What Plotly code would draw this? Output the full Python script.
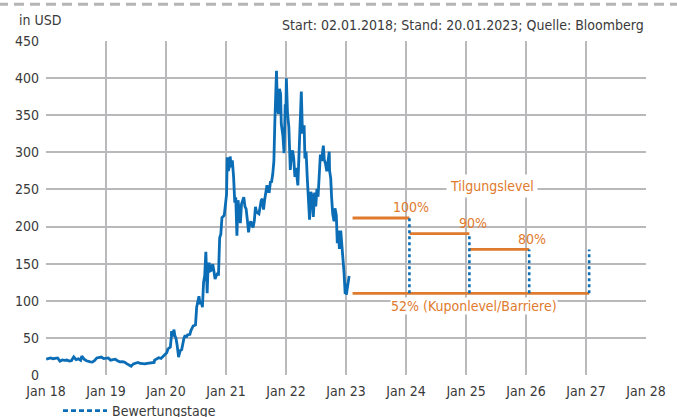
import plotly.graph_objects as go

# ---- price series (USD) ----
dates = [
"2018-01-02","2018-01-16","2018-01-30","2018-02-13","2018-02-27","2018-03-13","2018-03-27","2018-04-10","2018-04-24",
"2018-05-08","2018-05-22","2018-06-05","2018-06-19","2018-07-03","2018-07-17","2018-07-31","2018-08-07","2018-08-21",
"2018-09-04","2018-09-18","2018-09-28","2018-10-09","2018-10-23","2018-11-06","2018-11-20","2018-12-04","2018-12-18","2018-12-31",
"2019-01-15","2019-01-29","2019-02-12","2019-02-26","2019-03-12","2019-03-26","2019-04-09","2019-04-23","2019-05-07",
"2019-05-21","2019-06-03","2019-06-17","2019-07-01","2019-07-15","2019-07-29","2019-08-12","2019-08-26","2019-09-09",
"2019-09-23","2019-10-07","2019-10-21","2019-10-24","2019-11-04","2019-11-18","2019-12-02","2019-12-16","2019-12-31",
"2020-01-06","2020-01-13","2020-01-21","2020-01-28","2020-02-03","2020-02-04","2020-02-10","2020-02-19","2020-02-24",
"2020-03-02","2020-03-09","2020-03-16","2020-03-18","2020-03-23","2020-03-30","2020-04-06","2020-04-13","2020-04-20",
"2020-04-27","2020-05-04","2020-05-11","2020-05-18","2020-05-26","2020-06-01","2020-06-08","2020-06-15","2020-06-22",
"2020-06-29","2020-07-06","2020-07-13","2020-07-20","2020-07-27","2020-08-03","2020-08-10","2020-08-17","2020-08-24",
"2020-08-31","2020-09-08","2020-09-14","2020-09-21","2020-09-28","2020-10-05","2020-10-12","2020-10-19","2020-10-26",
"2020-11-02","2020-11-09","2020-11-16","2020-11-18","2020-11-23","2020-11-30","2020-12-07","2020-12-14","2020-12-21","2020-12-31",
"2021-01-04","2021-01-08","2021-01-15","2021-01-22","2021-01-26","2021-02-01","2021-02-08","2021-02-16","2021-02-23",
"2021-03-01","2021-03-05","2021-03-08","2021-03-15","2021-03-22","2021-03-29","2021-04-05","2021-04-12","2021-04-19",
"2021-04-26","2021-05-03","2021-05-10","2021-05-18","2021-05-24","2021-06-01","2021-06-08","2021-06-15","2021-06-22",
"2021-06-29","2021-07-06","2021-07-13","2021-07-20","2021-07-27","2021-08-03","2021-08-10","2021-08-17","2021-08-24",
"2021-08-31","2021-09-07","2021-09-14","2021-09-21","2021-09-28","2021-10-05","2021-10-12","2021-10-19","2021-10-25",
"2021-10-29","2021-11-01","2021-11-04","2021-11-10","2021-11-16","2021-11-22","2021-11-29","2021-12-03","2021-12-13",
"2021-12-20","2021-12-27","2021-12-31",
"2022-01-03","2022-01-10","2022-01-18","2022-01-27","2022-02-03","2022-02-10","2022-02-17","2022-02-24","2022-03-03",
"2022-03-14","2022-03-21","2022-03-29","2022-04-04","2022-04-11","2022-04-21","2022-04-26","2022-05-03","2022-05-10",
"2022-05-18","2022-05-24","2022-06-01","2022-06-08","2022-06-16","2022-06-24","2022-07-01","2022-07-08","2022-07-15",
"2022-07-21","2022-07-29","2022-08-05","2022-08-12","2022-08-16","2022-08-22","2022-08-29","2022-09-06","2022-09-13",
"2022-09-21","2022-09-23","2022-09-30","2022-10-05","2022-10-12","2022-10-20","2022-10-26","2022-11-03","2022-11-09",
"2022-11-15","2022-11-22","2022-11-30","2022-12-06","2022-12-13","2022-12-20","2022-12-27","2022-12-30",
"2023-01-03","2023-01-06","2023-01-11","2023-01-17","2023-01-20",
]
prices = [
21.4,22.6,23.1,21.9,22.8,23.0,18.6,20.3,19.7,
20.2,18.9,19.4,24.5,20.8,21.8,19.9,25.3,21.3,
19.2,18.0,17.6,17.4,19.4,23.0,23.1,24.2,22.1,22.2,
23.0,19.9,20.8,21.3,19.2,17.8,18.1,17.5,15.3,
13.1,11.9,15.0,15.8,16.9,15.6,15.0,14.9,15.7,
16.0,15.9,17.0,20.0,21.2,23.3,22.3,25.4,27.9,
30.1,35.0,36.5,37.7,52.0,59.1,51.8,61.2,53.3,
49.6,40.5,29.7,24.1,29.0,33.5,34.3,43.4,49.9,
53.3,50.8,54.0,54.3,54.7,59.9,63.8,66.1,66.6,
67.5,91.4,99.8,106.2,95.4,99.8,91.3,124.6,134.0,
166.1,110.1,149.8,149.8,140.4,141.4,149.4,140.0,129.3,
133.5,136.2,135.8,163.2,185.0,189.6,212.0,213.4,215.3,235.2,
243.3,293.3,275.0,282.2,294.4,279.9,289.3,266.3,232.0,
239.5,199.3,187.7,235.5,223.3,204.7,230.5,234.2,239.7,
226.9,223.9,210.0,192.1,203.4,207.0,201.1,199.0,207.8,
226.6,219.3,217.6,217.1,225.9,235.4,237.3,223.0,236.1,
245.2,255.6,247.3,247.0,259.9,260.5,270.4,288.0,341.6,
371.3,402.9,409.97,357.0,352.0,385.6,379.0,338.3,322.1,
299.0,364.6,352.3,
399.9,352.7,334.4,276.4,297.0,302.5,291.4,266.9,279.2,
255.5,307.3,364.6,381.8,325.3,336.3,291.7,301.0,266.7,
236.5,209.4,246.8,241.9,213.1,245.7,227.3,250.8,240.1,
272.2,297.1,288.2,300.0,308.97,289.9,284.8,274.4,292.1,
300.8,275.3,265.3,240.8,217.2,207.3,224.6,215.3,177.6,
194.4,169.9,194.7,179.8,160.95,137.8,109.1,123.2,
108.1,113.1,123.2,131.5,133.4,
]

# ---- product levels ----
level_start = "2023-02-10"
obs_dates = ["2024-01-22", "2025-01-21", "2026-01-20", "2027-01-20"]
redemption_levels = [211.5, 190.4, 169.2, 169.2]
redemption_labels = ["100%", "90%", "80%"]
barrier_level = 110.0
barrier_label = "52% (Kuponlevel/Barriere)"

BLUE = "#0a6db5"
ORANGE = "#e07a2c"
GRID = "#b9b9bb"
TXT = "#3a3a3a"
FONT = "DejaVu Sans Condensed, Liberation Sans Narrow, sans-serif"
FS = 14

fig = go.Figure()

fig.add_trace(go.Scatter(x=dates, y=prices, mode="lines",
                         line=dict(color=BLUE, width=2.8), showlegend=False))

# redemption level steps
step_starts = [level_start] + obs_dates[:2]
step_ends = obs_dates[:3]
for s, e, lv in zip(step_starts, step_ends, redemption_levels[:3]):
    fig.add_trace(go.Scatter(x=[s, e], y=[lv, lv], mode="lines",
                             line=dict(color=ORANGE, width=2.8), showlegend=False))

# barrier
fig.add_trace(go.Scatter(x=[level_start, obs_dates[-1]], y=[barrier_level, barrier_level],
                         mode="lines", line=dict(color=ORANGE, width=2.8), showlegend=False))

# observation days (dotted verticals)
vx, vy = [], []
for d, lv in zip(obs_dates, redemption_levels):
    vx += [d, d, None]
    vy += [barrier_level, lv, None]
fig.add_trace(go.Scatter(x=vx, y=vy, mode="lines", name="Bewertungstage",
                         line=dict(color=BLUE, width=2.6, dash="dot"), showlegend=False))
# legend entry
fig.add_trace(go.Scatter(x=[None], y=[None], mode="lines", name="Bewertungstage",
                         line=dict(color=BLUE, width=2.6, dash="5px,3px"), showlegend=True))

# labels
label_x = ["2024-01-31", "2025-02-12", "2026-02-07"]
label_y = [226, 205, 183]
for x, y, t in zip(label_x, label_y, redemption_labels):
    fig.add_annotation(x=x, y=y, text=t, showarrow=False,
                       font=dict(family=FONT, size=FS, color=ORANGE))
fig.add_annotation(x="2025-06-07", y=255, text="Tilgungslevel", showarrow=False,
                   bgcolor="white", borderpad=3,
                   font=dict(family=FONT, size=FS, color=ORANGE))
fig.add_annotation(x="2025-02-17", y=93, text=barrier_label, showarrow=False,
                   bgcolor="white", borderpad=0,
                   font=dict(family=FONT, size=FS, color=ORANGE))

# header texts
fig.add_annotation(xref="paper", yref="paper", x=1.0, y=1.0, yshift=16.5,
                   xanchor="right", yanchor="middle",
                   text="Start: 02.01.2018; Stand: 20.01.2023; Quelle: Bloomberg",
                   showarrow=False, font=dict(family=FONT, size=FS, color=TXT))
fig.add_annotation(xref="paper", yref="paper", x=0, y=1.0, xshift=-29, yshift=21,
                   xanchor="left", yanchor="middle", text="in USD",
                   showarrow=False, font=dict(family=FONT, size=FS, color=TXT))

# dashed separator line at top
fig.add_shape(type="line", xref="paper", yref="paper", x0=-0.08, x1=1.06, y0=1.11, y1=1.11,
              line=dict(color="#b5b5b5", width=3, dash="10px,6px"))

fig.update_xaxes(type="date", range=["2018-01-01", "2028-01-01"], dtick="M12",
                 tick0="2018-01-01", tickformat="%b %y", showgrid=True,
                 gridcolor=GRID, gridwidth=1.5, zeroline=False, showline=False,
                 ticks="", ticklabelstandoff=6, tickfont=dict(family=FONT, size=FS, color=TXT))
fig.update_yaxes(range=[0, 450], dtick=50, showgrid=True, gridcolor=GRID, gridwidth=1.5,
                 zeroline=False, showline=False, ticks="", ticklabelstandoff=6,
                 tickfont=dict(family=FONT, size=FS, color=TXT))

fig.update_layout(width=677, height=417, margin=dict(l=46, r=31, t=41, b=42, autoexpand=False),
                  paper_bgcolor="white", plot_bgcolor="white",
                  font=dict(family=FONT, color=TXT),
                  legend=dict(orientation="h", x=0.02, y=-0.108, xanchor="left", yanchor="middle",
                              itemwidth=44,
                              font=dict(family=FONT, size=FS, color=TXT),
                              bgcolor="rgba(0,0,0,0)"))

fig.write_html("out.html", config={"displayModeBar": False},
               post_script="document.body.style.margin='0';")
